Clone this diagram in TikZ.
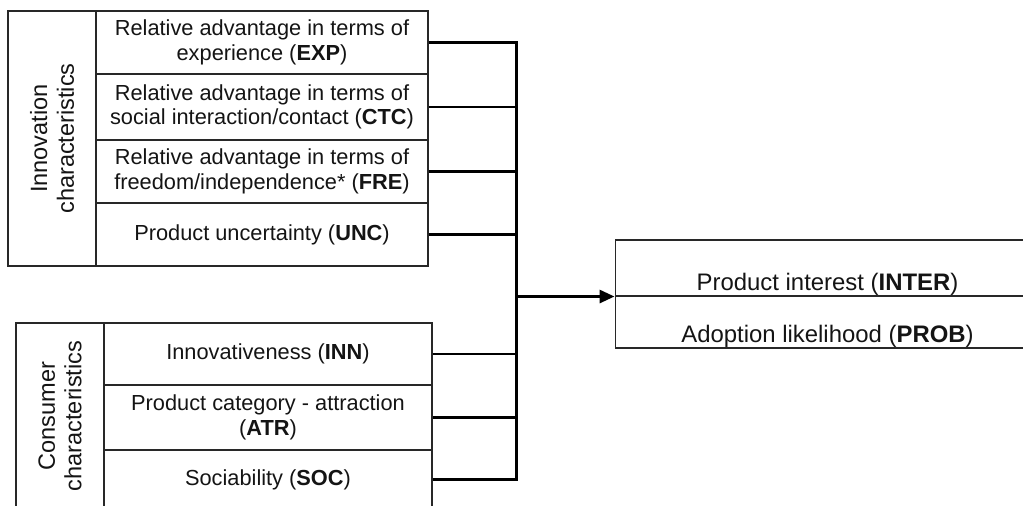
\documentclass[tikz,border=0pt]{standalone}
\usepackage{fontspec}
\setmainfont{Liberation Sans}
\usetikzlibrary{positioning,arrows.meta,calc}
\definecolor{cLine}{RGB}{40,40,40}
\definecolor{cText}{RGB}{20,20,20}

\begin{document}
\begin{tikzpicture}[
  x=0.02cm, y=-0.02cm,
  font=\fontsize{12.4}{14}\selectfont, text=cText,
  cell/.style 2 args={draw=cLine, line width=0.6pt, align=center,
    inner sep=0pt, minimum width=#1, minimum height=#2},
  side/.style 2 args={draw=cLine, line width=0.6pt, align=center,
    rotate=90, inner sep=0pt, minimum width=#1, minimum height=#2,
    font=\fontsize{13.4}{15.2}\selectfont},
  txt/.style={inner sep=0.5pt, align=center, font=\fontsize{13.6}{15}\selectfont},
  link/.style={line width=1.7pt, black},
  arr/.style={-{Triangle[length=0.3cm, width=0.26cm]}, line width=1.7pt, black},
]
\useasboundingbox (0,0) rectangle (1023,506);

% Innovation block.
\node[side={5.1cm}{1.76cm}] (innov) at (52,138.5)
  {Innovation\\ characteristics};
\node[cell={6.64cm}{1.26cm}] (exp) at (262,42.5)
  {Relative advantage in terms of\\ experience (\textbf{EXP})};
\node[cell={6.64cm}{1.32cm}] (ctc) at (262,107)
  {Relative advantage in terms of\\ social interaction/contact (\textbf{CTC})};
\node[cell={6.64cm}{1.26cm}] (fre) at (262,171.5)
  {Relative advantage in terms of\\ freedom/independence* (\textbf{FRE})};
\node[cell={6.64cm}{1.26cm}] (unc) at (262,234.5)
  {Product uncertainty (\textbf{UNC})};

% Consumer block.
\node[side={3.72cm}{1.76cm}] (consum) at (60,416)
  {Consumer\\ characteristics};
\node[cell={6.56cm}{1.24cm}] (inn) at (268,354)
  {Innovativeness (\textbf{INN})};
\node[cell={6.56cm}{1.3cm}] (atr) at (268,417.5)
  {Product category - attraction\\ (\textbf{ATR})};
\node[cell={6.56cm}{1.18cm}] (soc) at (268,479.5)
  {Sociability (\textbf{SOC})};

% Outcome block.
\node[cell={8.5cm}{1.12cm}] (inter) at (827.5,268) {};
\node[cell={8.5cm}{1.04cm}] (prob) at (827.5,322) {};
\node[txt, above=0pt of inter.south] (intertxt)
  {Product interest (\textbf{INTER})};
\node[txt, above=0pt of prob.south] (probtxt)
  {Adoption likelihood (\textbf{PROB})};

% Bus.
\coordinate (bustop) at (516,41);
\coordinate (busbot) at (516,481);
\draw[link] (exp.east) -- (exp.east -| bustop);
\draw[link] (ctc.east) -- (ctc.east -| bustop);
\draw[link] (fre.east) -- (fre.east -| bustop);
\draw[link] (unc.east) -- (unc.east -| bustop);
\draw[link] (inn.east) -- (inn.east -| bustop);
\draw[link] (atr.east) -- (atr.east -| bustop);
\draw[link] (soc.east) -- (soc.east -| bustop);
\draw[link, line cap=rect] (exp.east -| bustop) -- (soc.east -| bustop);
\draw[arr] (inter.south west -| bustop) -- (inter.south west);

\end{tikzpicture}
\end{document}
